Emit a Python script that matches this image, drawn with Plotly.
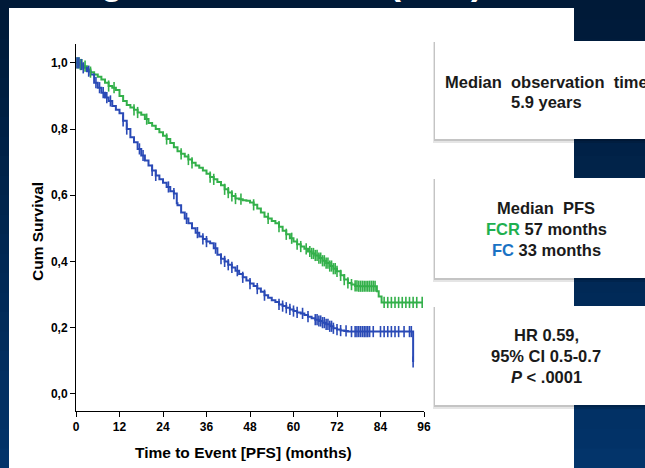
import plotly.graph_objects as go

# ---------------- data ----------------
fcr_time = [0, 1, 2, 3, 4, 5, 6, 7, 8, 9, 10, 11, 12, 13, 14, 15, 16, 17, 18, 19, 20,
            21, 22, 23, 24, 25, 26, 27, 28, 29, 30, 31, 32, 33, 34, 35, 36, 37, 38, 39, 40,
            41, 42, 43, 44, 45, 46, 47, 48, 49, 50, 51, 52, 53, 54, 55, 56, 57, 58, 59, 60,
            61, 62, 63, 64, 65, 66, 67, 68, 69, 70, 71, 72, 73, 74, 75, 76, 77, 78, 83, 83.5,
            84.3, 95.5]
fcr_surv = [1.0, 0.995, 0.99, 0.98, 0.972, 0.965, 0.958, 0.95, 0.94, 0.93, 0.925, 0.918, 0.9,
            0.885, 0.873, 0.865, 0.858, 0.85, 0.843, 0.83, 0.818, 0.81, 0.8, 0.79, 0.78, 0.77,
            0.758, 0.745, 0.733, 0.725, 0.717, 0.708, 0.698, 0.69, 0.683, 0.675, 0.665, 0.655,
            0.648, 0.64, 0.63, 0.618, 0.608, 0.598, 0.59, 0.588, 0.585, 0.583, 0.578, 0.571,
            0.56, 0.548, 0.535, 0.53, 0.522, 0.515, 0.505, 0.493, 0.482, 0.47, 0.46, 0.452,
            0.445, 0.438, 0.43, 0.424, 0.418, 0.41, 0.402, 0.395, 0.386, 0.378, 0.37, 0.358,
            0.345, 0.335, 0.33, 0.326, 0.325, 0.31, 0.294, 0.276, 0.276]

fc_time = [0, 1, 2, 3, 4, 5, 6, 7, 8, 9, 10, 11, 12, 13, 14, 15, 16, 17, 18, 19, 20, 21, 22,
           23, 24, 25, 26, 27, 27.8, 28, 29, 30, 31, 32, 33, 34, 35, 36, 37, 38, 39, 40, 41,
           42, 43, 44, 45, 46, 47, 48, 49, 50, 51, 52, 53, 54, 55, 56, 57, 58, 59, 60, 61, 62,
           63, 64, 65, 66, 67, 68, 69, 70, 71, 72, 73, 74, 75, 92.8, 93.0]
fc_surv = [1.0, 0.995, 0.985, 0.975, 0.965, 0.94, 0.925, 0.91, 0.895, 0.885, 0.87, 0.858,
           0.848, 0.825, 0.8, 0.775, 0.76, 0.74, 0.72, 0.705, 0.69, 0.675, 0.66, 0.648, 0.638,
           0.625, 0.612, 0.605, 0.576, 0.57, 0.548, 0.53, 0.515, 0.5, 0.487, 0.475, 0.468,
           0.46, 0.455, 0.44, 0.42, 0.408, 0.4, 0.39, 0.382, 0.372, 0.362, 0.352, 0.342, 0.333,
           0.326, 0.318, 0.308, 0.298, 0.29, 0.283, 0.277, 0.27, 0.265, 0.26, 0.255, 0.25,
           0.246, 0.243, 0.238, 0.233, 0.228, 0.224, 0.22, 0.215, 0.21, 0.204, 0.198, 0.194,
           0.191, 0.19, 0.188, 0.188, 0.096]

fcr_censor = [0.3, 0.8, 1.2, 1.6, 2.5, 4, 9, 10.5, 16, 17, 19.5, 25, 29, 31, 32, 37, 38, 41,
              42, 43, 44, 45.5, 49, 53, 56, 58, 59.5, 61, 62, 63.5, 64.5, 65, 65.5, 66, 66.5,
              67, 67.5, 68, 68.5, 69, 69.5, 70, 70.5, 71, 71.5, 72, 73, 74, 75, 76, 77, 77.5,
              78, 78.5, 79, 79.5, 80, 80.5, 81, 81.5, 82, 82.5, 85, 86, 87, 88, 89, 90, 91,
              92, 93, 94, 95.5]
fc_censor = [0.3, 0.8, 1.5, 2, 3.5, 5.5, 6.5, 7.5, 8.5, 9.5, 13, 14, 17.5, 18.5, 21, 22, 25.5,
             27, 30.5, 33.5, 35, 36, 38.5, 40, 41, 42, 43, 44.5, 46, 48, 50, 52, 56, 57, 58,
             59, 60, 61, 62.5, 64, 66, 66.5, 67, 67.5, 68, 68.5, 69, 69.5, 70, 70.5, 71, 72,
             73, 74.5, 76, 77, 77.5, 78, 78.5, 79, 79.5, 80, 80.5, 81, 82, 84, 85, 86, 87, 88,
             89, 90.5, 92, 92.5, 93.0]

x_ticks = [0, 12, 24, 36, 48, 60, 72, 84, 96]
y_ticks = [0.0, 0.2, 0.4, 0.6, 0.8, 1.0]

GREEN = "#33b04a"
BLUE = "#2a4ab6"


def surv_at(t, times, surv):
    val = surv[0]
    for tt, s in zip(times, surv):
        if tt <= t:
            val = s
    return val


# ---------------- geometry helpers (pixel -> paper) ----------------
W, H = 645, 468
L, R, T, B = 76, 424, 44, 411


def fx(px):
    return (px - L) / (R - L)


def fy(py):
    return (B - py) / (B - T)


fig = go.Figure()

fig.add_trace(go.Scatter(x=fcr_time, y=fcr_surv, mode="lines", line=dict(color=GREEN, width=2, shape="hv"),
                         showlegend=False, hoverinfo="skip"))
fig.add_trace(go.Scatter(x=fc_time, y=fc_surv, mode="lines", line=dict(color=BLUE, width=2, shape="hv"),
                         showlegend=False, hoverinfo="skip"))
fig.add_trace(go.Scatter(x=fcr_censor, y=[surv_at(t, fcr_time, fcr_surv) for t in fcr_censor],
                         mode="markers", marker=dict(symbol="line-ns-open", size=8, color=GREEN,
                                                     line=dict(color=GREEN, width=1.6)),
                         showlegend=False, hoverinfo="skip"))
fig.add_trace(go.Scatter(x=fc_censor, y=[surv_at(t, fc_time, fc_surv) for t in fc_censor],
                         mode="markers", marker=dict(symbol="line-ns-open", size=8, color=BLUE,
                                                     line=dict(color=BLUE, width=1.6)),
                         showlegend=False, hoverinfo="skip"))

shapes = []
# background gradient bands
top_c = (0, 26, 56)
bot_c = (3, 52, 106)
n = 24
for i in range(n):
    f = i / (n - 1)
    c = tuple(int(top_c[k] + (bot_c[k] - top_c[k]) * f) for k in range(3))
    shapes.append(dict(type="rect", xref="paper", yref="paper", layer="below",
                       x0=fx(0), x1=fx(W), y0=fy(H * i / n), y1=fy(H * (i + 1) / n + 1),
                       line=dict(width=0), fillcolor="rgb(%d,%d,%d)" % c))
# white panel
shapes.append(dict(type="rect", xref="paper", yref="paper", layer="below",
                   x0=fx(9), x1=fx(574), y0=fy(8), y1=fy(H + 2),
                   line=dict(width=0), fillcolor="white"))

boxes = [(41, 139), (178, 278), (306, 405)]
for (t0, b0) in boxes:
    shapes.append(dict(type="rect", xref="paper", yref="paper", layer="below",
                       x0=fx(433), x1=fx(660), y0=fy(t0 + 1), y1=fy(b0 + 4),
                       line=dict(width=0), fillcolor="rgba(0,0,0,0.10)"))
    shapes.append(dict(type="rect", xref="paper", yref="paper", layer="below",
                       x0=fx(434), x1=fx(660), y0=fy(t0 + 1), y1=fy(b0 + 2),
                       line=dict(width=0), fillcolor="rgba(0,0,0,0.14)"))
    shapes.append(dict(type="rect", xref="paper", yref="paper", layer="below",
                       x0=fx(435), x1=fx(660), y0=fy(t0), y1=fy(b0),
                       line=dict(width=0), fillcolor="white"))

fig.update_layout(shapes=shapes)

BOLD = dict(family="Liberation Sans, Arial, sans-serif", weight="bold")
annots = []


def txt(text, px, py, size, color="#1a1a1a", xanchor="center", yanchor="middle", angle=0):
    annots.append(dict(text=text, xref="paper", yref="paper", x=fx(px), y=fy(py),
                       xanchor=xanchor, yanchor=yanchor, showarrow=False, textangle=angle,
                       font=dict(size=size, color=color, **BOLD)))


# cut-off slide title (only its descenders show at the top edge)
txt("Long-term Outcome (PFS)", 33, 4, 36, color="white", xanchor="left", yanchor="bottom")

FS = 16.5
txt("Median&nbsp;&nbsp;observation&nbsp;&nbsp;time", 546, 82, FS)
txt("5.9&nbsp;years", 546, 102, FS)
txt("Median&nbsp;&nbsp;PFS", 546, 208, FS)
txt("<span style='color:#1fb050'>FCR</span> 57&nbsp;months", 546, 229, FS)
txt("<span style='color:#1a72c4'>FC</span> 33&nbsp;months", 546, 250, FS)
txt("HR 0.59,", 546, 335, FS)
txt("95% CI 0.5-0.7", 546, 356, FS)
txt("<i>P</i> &lt; .0001", 546, 377, FS)

txt("Cum Survival", 37, 232, 15.5, color="black", angle=-90)
txt("Time to Event [PFS] (months)", 243, 452, 15.5, color="black")

fig.update_layout(annotations=annots)

fig.update_layout(
    width=W, height=H,
    margin=dict(l=L, r=W - R, t=T, b=H - B, pad=0),
    paper_bgcolor="rgb(0,26,56)",
    plot_bgcolor="rgba(0,0,0,0)",
    separators=",.",
    showlegend=False,
    xaxis=dict(range=[0, 96], tickvals=x_ticks, ticktext=[str(v) for v in x_ticks],
               showgrid=False, zeroline=False, showline=True, linecolor="black", linewidth=1,
               ticks="outside", ticklen=5, tickcolor="black", tickwidth=1,
               tickfont=dict(size=12, color="black", **BOLD)),
    yaxis=dict(range=[-0.052, 1.057], tickvals=y_ticks, tickformat=".1f",
               showgrid=False, zeroline=False, showline=True, linecolor="black", linewidth=1,
               ticks="outside", ticklen=5, tickcolor="black", tickwidth=1,
               tickfont=dict(size=12, color="black", **BOLD)),
)

fig.write_html("out.html", config={"displayModeBar": False},
               post_script="document.body.style.margin='0';document.body.style.overflow='hidden';")
